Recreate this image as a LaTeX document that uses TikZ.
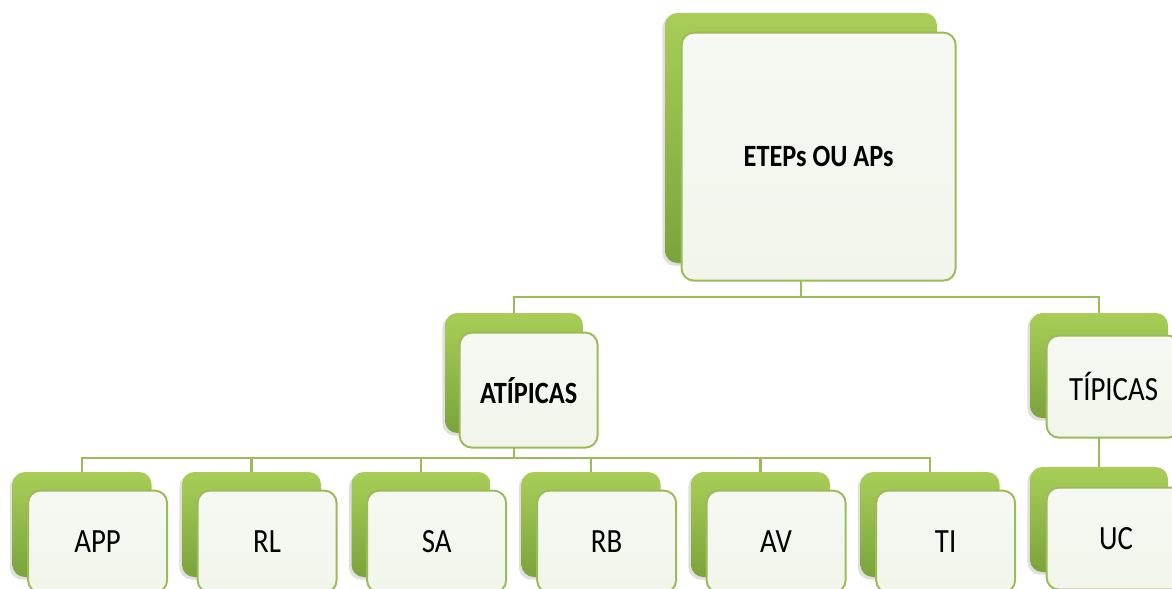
\documentclass[tikz,border=0pt]{standalone}
\usepackage{fontspec}
\setmainfont[FakeStretch=0.85]{Carlito}
\usepackage{tikz}
\usetikzlibrary{shadows,backgrounds}

\definecolor{verdeclaro}{HTML}{A8CE58}
\definecolor{verdeescuro}{HTML}{7CA33C}
\definecolor{borda}{HTML}{9BBB59}
\definecolor{papel}{HTML}{F1F5EB}

\tikzset{
  fundo/.style={rounded corners=7pt, top color=verdeclaro, bottom color=verdeescuro,
    draw=none, inner sep=0pt,
    drop shadow={shadow xshift=-1.5pt, shadow yshift=-1.5pt, opacity=0.25}},
  frente/.style={rounded corners=7pt, draw=borda, line width=1.1pt, inner sep=0pt,
    top color=papel!60!white, bottom color=papel, anchor=north west,
    font=\fontsize{19.3pt}{22pt}\selectfont},
  negrito/.style={font=\fontsize{17.6pt}{20pt}\selectfont\bfseries},
  ligacao/.style={draw=borda, line width=1.3pt}
}

\begin{document}
\begin{tikzpicture}
    \useasboundingbox (0,0) rectangle (23.44,-11.78);
    \clip (0,0) rectangle (23.44,-11.78);

    %raiz
    \node [fundo, minimum width=5.44cm, minimum height=5.00cm] (raiz-fundo) at (16.02,-2.76) {};
    \node [frente, negrito, minimum width=5.48cm, minimum height=4.96cm] (raiz) at ([shift={(0.32,-0.38)}]raiz-fundo.north west) {ETEPs OU APs};

    %segundo nivel
    \node [fundo, minimum width=2.76cm, minimum height=2.40cm] (atipicas-fundo) at (10.28,-7.46) {};
    \node [frente, negrito, minimum width=2.76cm, minimum height=2.30cm] (atipicas) at ([shift={(0.28,-0.38)}]atipicas-fundo.north west) {ATÍPICAS};
    \node [fundo, minimum width=2.76cm, minimum height=2.10cm] (tipicas-fundo) at (21.98,-7.31) {};
    \node [frente, minimum width=2.68cm, minimum height=2.04cm] (tipicas) at ([shift={(0.32,-0.44)}]tipicas-fundo.north west) {TÍPICAS};

    %atipicas
    \node [fundo, minimum width=2.78cm, minimum height=2.10cm] (app-fundo) at (1.64,-10.49) {};
    \node [frente, minimum width=2.78cm, minimum height=2.04cm] (app) at ([shift={(0.30,-0.36)}]app-fundo.north west) {APP};
    \node [fundo, minimum width=2.78cm, minimum height=2.10cm] (rl-fundo) at (5.03,-10.49) {};
    \node [frente, minimum width=2.78cm, minimum height=2.04cm] (rl) at ([shift={(0.30,-0.36)}]rl-fundo.north west) {RL};
    \node [fundo, minimum width=2.78cm, minimum height=2.10cm] (sa-fundo) at (8.42,-10.49) {};
    \node [frente, minimum width=2.78cm, minimum height=2.04cm] (sa) at ([shift={(0.30,-0.36)}]sa-fundo.north west) {SA};
    \node [fundo, minimum width=2.78cm, minimum height=2.10cm] (rb-fundo) at (11.82,-10.49) {};
    \node [frente, minimum width=2.78cm, minimum height=2.04cm] (rb) at ([shift={(0.30,-0.36)}]rb-fundo.north west) {RB};
    \node [fundo, minimum width=2.78cm, minimum height=2.10cm] (av-fundo) at (15.21,-10.49) {};
    \node [frente, minimum width=2.78cm, minimum height=2.04cm] (av) at ([shift={(0.30,-0.36)}]av-fundo.north west) {AV};
    \node [fundo, minimum width=2.78cm, minimum height=2.10cm] (ti-fundo) at (18.60,-10.49) {};
    \node [frente, minimum width=2.78cm, minimum height=2.04cm] (ti) at ([shift={(0.30,-0.36)}]ti-fundo.north west) {TI};

    %tipicas
    \node [fundo, minimum width=2.76cm, minimum height=2.10cm] (uc-fundo) at (21.98,-10.39) {};
    \node [frente, minimum width=2.78cm, minimum height=2.04cm] (uc) at ([shift={(0.32,-0.40)}]uc-fundo.north west) {UC};

    %ligacoes
    \begin{scope}[on background layer]
      \coordinate (barra1) at (16.02,-5.94);
      \coordinate (barra2) at (10.28,-9.16);
      \draw [ligacao] (raiz-fundo.south) -- (barra1);
      \draw [ligacao] (barra1) -| (atipicas-fundo.north);
      \draw [ligacao] (barra1) -| (tipicas-fundo.north);
      \draw [ligacao] (atipicas-fundo.south) -- (barra2);
      \draw [ligacao] (barra2) -| (app-fundo.north);
      \draw [ligacao] (barra2) -| (rl-fundo.north);
      \draw [ligacao] (barra2) -| (sa-fundo.north);
      \draw [ligacao] (barra2) -| (rb-fundo.north);
      \draw [ligacao] (barra2) -| (av-fundo.north);
      \draw [ligacao] (barra2) -| (ti-fundo.north);
      \draw [ligacao] (tipicas-fundo.south) -- (uc-fundo.north);
    \end{scope}
\end{tikzpicture}
\end{document}
